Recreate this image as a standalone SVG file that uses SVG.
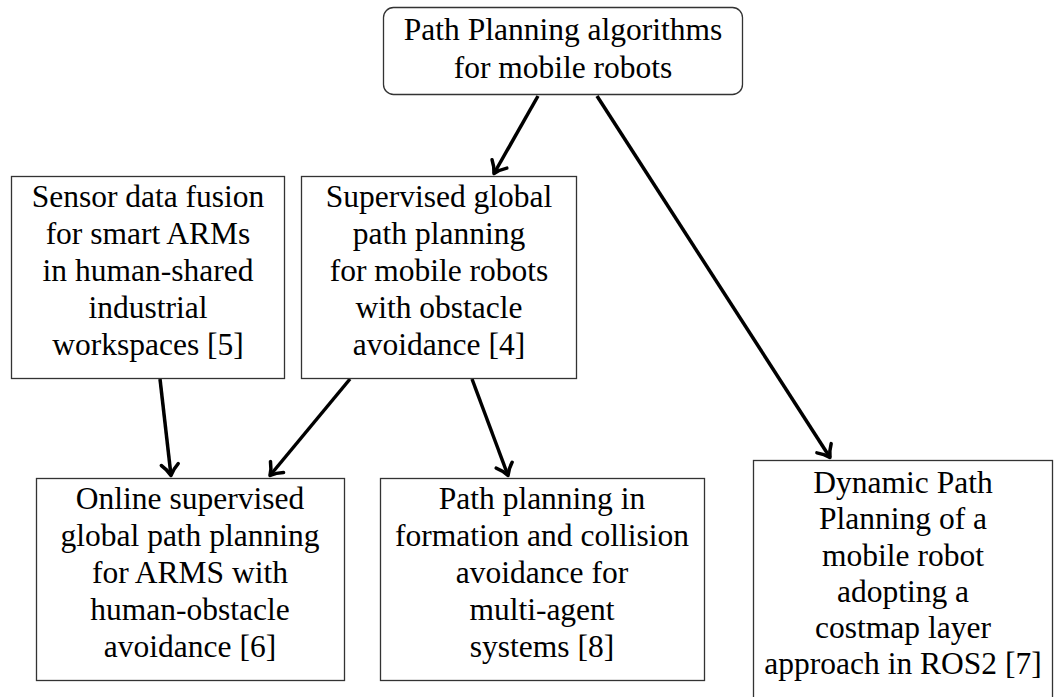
<svg xmlns="http://www.w3.org/2000/svg" width="1061" height="697" viewBox="0 0 1061 697">
  <style>
    .box { fill: #fff; stroke: #333; stroke-width: 1.3; }
    .lbl { font-family: 'Liberation Serif', 'Times New Roman', serif; font-size: 31.5px; fill: #000; text-anchor: middle; }
    .edge { fill: none; stroke: #000; stroke-width: 3.5; }
  </style>
  <defs>
    <!-- curved-barb arrow tip, tip at the origin -->
    <marker id="tip" markerUnits="userSpaceOnUse" markerWidth="30" markerHeight="30" viewBox="-15 -15 30 30" refX="0" refY="0" orient="auto" overflow="visible">
      <path d="M-11,-8.5 C-6.5,-3.5 -2,-1 0,0 C-2,1 -6.5,3.5 -11,8.5" fill="none" stroke="#000" stroke-width="3.5" stroke-linecap="round" stroke-linejoin="round"/>
    </marker>
  </defs>

  <g id="connectors">
    <line class="edge" x1="538" y1="96" x2="494" y2="173.5" marker-end="url(#tip)"/>
    <line class="edge" x1="597" y1="96" x2="830" y2="457.5" marker-end="url(#tip)"/>
    <line class="edge" x1="160" y1="379" x2="171" y2="475.5" marker-end="url(#tip)"/>
    <line class="edge" x1="350" y1="379" x2="270" y2="475.5" marker-end="url(#tip)"/>
    <line class="edge" x1="472" y1="379" x2="508" y2="475.5" marker-end="url(#tip)"/>
  </g>

  <g id="root">
    <rect class="box" x="383.5" y="7.5" width="359" height="87" rx="10" ry="10"/>
    <text class="lbl" x="563" y="40">Path Planning algorithms</text>
    <text class="lbl" x="563" y="78">for mobile robots</text>
  </g>

  <g id="sensor-fusion">
    <rect class="box" x="11.5" y="176.5" width="273" height="202"/>
    <text class="lbl" x="148" y="207">Sensor data fusion</text>
    <text class="lbl" x="148" y="244">for smart ARMs</text>
    <text class="lbl" x="148" y="281">in human-shared</text>
    <text class="lbl" x="148" y="318">industrial</text>
    <text class="lbl" x="148" y="355">workspaces [5]</text>
  </g>

  <g id="supervised-global">
    <rect class="box" x="301.5" y="176.5" width="275" height="202"/>
    <text class="lbl" x="439" y="207">Supervised global</text>
    <text class="lbl" x="439" y="244">path planning</text>
    <text class="lbl" x="439" y="281">for mobile robots</text>
    <text class="lbl" x="439" y="318">with obstacle</text>
    <text class="lbl" x="439" y="355">avoidance [4]</text>
  </g>

  <g id="online-supervised">
    <rect class="box" x="36.5" y="478.5" width="308" height="202"/>
    <text class="lbl" x="190" y="509">Online supervised</text>
    <text class="lbl" x="190" y="546">global path planning</text>
    <text class="lbl" x="190" y="583">for ARMS with</text>
    <text class="lbl" x="190" y="620">human-obstacle</text>
    <text class="lbl" x="190" y="657">avoidance [6]</text>
  </g>

  <g id="formation">
    <rect class="box" x="380.5" y="478.5" width="324" height="202"/>
    <text class="lbl" x="542" y="509">Path planning in</text>
    <text class="lbl" x="542" y="546">formation and collision</text>
    <text class="lbl" x="542" y="583">avoidance for</text>
    <text class="lbl" x="542" y="620">multi-agent</text>
    <text class="lbl" x="542" y="657">systems [8]</text>
  </g>

  <g id="dynamic-costmap">
    <rect class="box" x="753.5" y="460.5" width="299" height="250"/>
    <text class="lbl" x="903" y="493">Dynamic Path</text>
    <text class="lbl" x="903" y="529">Planning of a</text>
    <text class="lbl" x="903" y="565.5">mobile robot</text>
    <text class="lbl" x="903" y="601.5">adopting a</text>
    <text class="lbl" x="903" y="638">costmap layer</text>
    <text class="lbl" x="903" y="674">approach in ROS2 [7]</text>
  </g>
</svg>
